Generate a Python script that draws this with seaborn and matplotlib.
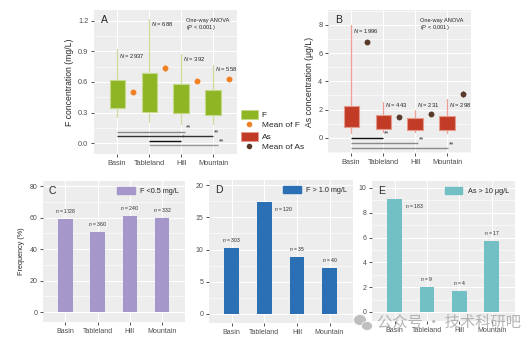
import numpy as np
import matplotlib
matplotlib.use("Agg")
import matplotlib.pyplot as plt
import seaborn as sns
from matplotlib.patches import Patch, Ellipse
from matplotlib.lines import Line2D
from matplotlib.ticker import MultipleLocator

# ---------------- data ----------------
regions = ["Basin", "Tableland", "Hill", "Mountain"]

# Panel A: F concentration (mg/L) box summaries
f_whislo = [0.26, 0.21, 0.19, 0.19]
f_q1 = [0.34, 0.305, 0.30, 0.28]
f_q3 = [0.62, 0.686, 0.58, 0.52]
f_whishi = [0.92, 1.22, 0.875, 0.77]
f_mean = [0.50, 0.74, 0.61, 0.63]
f_mean_err = [0.01, 0.03, 0.02, 0.02]
f_n = [2937, 688, 392, 558]
f_n_y = [0.855, 1.17, 0.83, 0.73]
f_sig_start = [0, 0, 1, 1]
f_sig_end = [2.12, 3.0, 2.0, 3.15]
f_sig_y = [0.11, 0.069, 0.02, -0.023]
f_sig_label = ["**", "**", "*", "**"]
f_sig_color = ["#8a8a8a", "#333333", "#111111", "#9a9a9a"]

# Panel B: As concentration (ug/L) box summaries
as_whislo = [0.35, 0.40, 0.40, 0.35]
as_q1 = [0.73, 0.62, 0.57, 0.57]
as_q3 = [2.22, 1.58, 1.39, 1.56]
as_whishi = [8.0, 2.57, 1.98, 2.76]
as_mean = [6.78, 1.46, 1.72, 3.12]
as_mean_err = [0.08, 0.05, 0.05, 0.2]
as_n = [1996, 443, 231, 298]
as_n_y = [7.6, 2.35, 2.35, 2.35]
as_sig_start = [0, 0, 0]
as_sig_end = [1.0, 2.1, 3.03]
as_sig_y = [0.0, -0.37, -0.75]
as_sig_label = ["**", "**", "**"]
as_sig_color = ["#111111", "#8a8a8a", "#8a8a8a"]

# Panels C-E: frequencies (%)
freq_f_low = [58.8, 50.9, 61.1, 59.4]
n_f_low = [1728, 360, 240, 332]
freq_f_high = [10.26, 17.4, 8.86, 7.15]
n_f_high = [303, 120, 35, 40]
freq_as_high = [9.13, 2.0, 1.68, 5.72]
n_as_high = [183, 9, 4, 17]

# ---------------- style ----------------
sns.set_theme(style="darkgrid")
plt.rcParams['font.family'] = ['Liberation Sans', 'DejaVu Sans']
plt.rcParams['mathtext.fontset'] = 'custom'
plt.rcParams['mathtext.it'] = 'Liberation Sans:italic'
plt.rcParams['mathtext.rm'] = 'Liberation Sans'

BG = "#ededed"
C_F = "#8db524"
C_FEDGE = "#c4d98a"
C_FWH = "#cfdd9c"
C_FMEAN = "#f28126"
C_AS = "#c23b27"
C_ASEDGE = "#e59b8c"
C_ASWH = "#eea096"
C_ASMEAN = "#5a3a2a"
C_C = "#a597c9"
C_D = "#2b70b4"
C_E = "#73c0c4"

W, H = 532, 346
fig = plt.figure(figsize=(W / 100, H / 100), dpi=100)


def add_ax(x0, y0, x1, y1):
    return fig.add_axes([x0 / W, 1 - y1 / H, (x1 - x0) / W, (y1 - y0) / H])


def style_ax(ax, tick_fs):
    ax.set_facecolor(BG)
    for s in ax.spines.values():
        s.set_visible(False)
    ax.grid(True, which="major", color="white", linewidth=0.8)
    ax.grid(True, which="minor", axis="y", color="white", linewidth=0.4)
    ax.tick_params(axis="both", which="major", length=2.5, width=0.6, color="#333333",
                   labelcolor="#4d4d4d", labelsize=tick_fs, pad=1.5,
                   bottom=True, left=True)
    ax.tick_params(axis="both", which="minor", length=0)
    ax.set_axisbelow(True)


def box_panel(ax, whislo, q1, q3, whishi, fill, edge, wh, mean, err, mcol):
    stats = []
    for lo, a, b, hi in zip(whislo, q1, q3, whishi):
        stats.append(dict(whislo=lo, q1=a, med=a, q3=b, whishi=hi, fliers=[]))
    ax.bxp(stats, positions=np.arange(len(stats)), widths=0.47, patch_artist=True,
           showfliers=False, showcaps=False,
           boxprops=dict(facecolor=fill, edgecolor=edge, linewidth=0.8),
           whiskerprops=dict(color=wh, linewidth=0.9),
           medianprops=dict(linewidth=0))
    xm = np.arange(len(mean)) + 0.5
    ax.errorbar(xm, mean, yerr=err, fmt="none", ecolor=mcol, elinewidth=0.8, capsize=0)
    sns.scatterplot(x=xm, y=mean, color=mcol, s=18, linewidth=0, ax=ax, zorder=4)


def sig_lines(ax, starts, ends, ys, labels, colors):
    for s, e, y, lab, c in zip(starts, ends, ys, labels, colors):
        ax.plot([s, e], [y, y], color=c, linewidth=1.0, solid_capstyle="butt")
        ax.text(e + 0.03, y, lab, fontsize=4.8, va="bottom", ha="left", color="#333333")


# ---------------- Panel A ----------------
axA = add_ax(94, 10, 237, 154)
box_panel(axA, f_whislo, f_q1, f_q3, f_whishi, C_F, C_FEDGE, C_FWH,
          f_mean, f_mean_err, C_FMEAN)
axA.set_xlim(-0.72, 3.75)
axA.set_ylim(-0.108, 1.308)
axA.yaxis.set_minor_locator(MultipleLocator(0.15))
axA.set_yticks([0, 0.3, 0.6, 0.9, 1.2])
axA.set_yticklabels(["0.0", "0.3", "0.6", "0.9", "1.2"])
axA.set_xticks(range(4))
axA.set_xticklabels(regions)
style_ax(axA, 5.3)
axA.set_ylabel("F concentration (mg/L)", fontsize=6.2, labelpad=3)
for i, (n, y) in enumerate(zip(f_n, f_n_y)):
    axA.text(i + 0.06, y, r"$\it{N}$" + f" = {n}", fontsize=4.2, va="center", ha="left")
sig_lines(axA, f_sig_start, f_sig_end, f_sig_y, f_sig_label, f_sig_color)
axA.text(0.05, 0.93, "A", transform=axA.transAxes, fontsize=7.5, va="center", ha="left")
axA.text(0.645, 0.925, "One-way ANOVA", transform=axA.transAxes, fontsize=4.1,
         va="center", ha="left")
axA.text(0.645, 0.875, r"($\it{P}$ < 0.001)", transform=axA.transAxes, fontsize=4.1,
         va="center", ha="left")

# ---------------- Panel B ----------------
axB = add_ax(328, 10, 471, 153)
box_panel(axB, as_whislo, as_q1, as_q3, as_whishi, C_AS, C_ASEDGE, C_ASWH,
          as_mean, as_mean_err, C_ASMEAN)
axB.set_xlim(-0.72, 3.75)
axB.set_ylim(-1.08, 9.06)
axB.yaxis.set_minor_locator(MultipleLocator(1))
axB.set_yticks([0, 2, 4, 6, 8])
axB.set_xticks(range(4))
axB.set_xticklabels(regions)
style_ax(axB, 5.3)
axB.set_ylabel("As concentration (μg/L)", fontsize=6.2, labelpad=3)
for i, (n, y) in enumerate(zip(as_n, as_n_y)):
    axB.text(i + 0.06, y, r"$\it{N}$" + f" = {n}", fontsize=4.2, va="center", ha="left")
sig_lines(axB, as_sig_start, as_sig_end, as_sig_y, as_sig_label, as_sig_color)
axB.text(0.05, 0.93, "B", transform=axB.transAxes, fontsize=7.5, va="center", ha="left")
axB.text(0.645, 0.925, "One-way ANOVA", transform=axB.transAxes, fontsize=4.1,
         va="center", ha="left")
axB.text(0.645, 0.875, r"($\it{P}$ < 0.001)", transform=axB.transAxes, fontsize=4.1,
         va="center", ha="left")

# ---------------- A/B legends ----------------
fig.legend(handles=[Patch(facecolor=C_F, edgecolor=C_FEDGE, linewidth=0.6),
                    Line2D([], [], marker="o", linestyle="none", color=C_FMEAN, markersize=3)],
           labels=["F", "Mean of F"], loc="upper left",
           bbox_to_anchor=(241 / W, 1 - 110 / H), frameon=False, fontsize=6,
           handlelength=2.0, handleheight=1.2, labelspacing=0.15,
           borderpad=0, handletextpad=0.5, borderaxespad=0)
fig.legend(handles=[Patch(facecolor=C_AS, edgecolor=C_ASEDGE, linewidth=0.6),
                    Line2D([], [], marker="o", linestyle="none", color=C_ASMEAN, markersize=3)],
           labels=["As", "Mean of As"], loc="upper left",
           bbox_to_anchor=(241 / W, 1 - 132 / H), frameon=False, fontsize=6,
           handlelength=2.0, handleheight=1.2, labelspacing=0.15,
           borderpad=0, handletextpad=0.5, borderaxespad=0)


# ---------------- Bar panels ----------------
def bar_panel(ax, vals, ns, color, label, letter, ylim, step, minor, side):
    sns.barplot(x=regions, y=vals, color=color, width=0.45, ax=ax, saturation=1,
                edgecolor=color, linewidth=0)
    ax.set_xlim(-0.7, 3.72)
    ax.set_ylim(*ylim)
    ax.yaxis.set_major_locator(MultipleLocator(step))
    ax.yaxis.set_minor_locator(MultipleLocator(minor))
    style_ax(ax, 5.0)
    ax.set_xlabel("")
    ax.set_ylabel("")
    for i, (v, n) in enumerate(zip(vals, ns)):
        if side[i]:
            ax.annotate(r"$\it{n}$" + f" = {n}", (i + 0.225, v), xytext=(2, -2.5),
                        textcoords="offset points", fontsize=3.6, ha="left", va="top")
        else:
            ax.annotate(r"$\it{n}$" + f" = {n}", (i, v), xytext=(0, 3),
                        textcoords="offset points", fontsize=3.6, ha="center", va="bottom")
    ax.text(0.04, 0.93, letter, transform=ax.transAxes, fontsize=7.5, va="center", ha="left")
    ax.legend(handles=[Patch(facecolor=color, edgecolor=color)], labels=[label],
              loc="upper right", frameon=False, fontsize=5.2, handlelength=2.4,
              handleheight=1.1, handletextpad=0.8, borderaxespad=0.5, borderpad=0.3)


axC = add_ax(43, 181, 185, 322)
bar_panel(axC, freq_f_low, n_f_low, C_C, "F <0.5 mg/L", "C", (-6.35, 83.2), 20, 10,
          [False, False, False, False])
axC.set_ylabel("Frequency (%)", fontsize=5.2, labelpad=3)

axD = add_ax(209, 180, 353, 323)
bar_panel(axD, freq_f_high, n_f_high, C_D, "F > 1.0 mg/L", "D", (-1.4, 20.8), 5, 2.5,
          [False, True, False, False])

axE = add_ax(372, 181, 515, 321)
bar_panel(axE, freq_as_high, n_as_high, C_E, "As > 10 μg/L", "E", (-0.73, 10.56), 2, 1,
          [True, False, False, False])

# ---------------- watermark ----------------
fig.patches.append(Ellipse((360 / W, 1 - 320 / H), 13 / W, 11 / H, transform=fig.transFigure,
                           facecolor="#b8b8b8", edgecolor="white", linewidth=0.6, alpha=0.9))
fig.patches.append(Ellipse((367 / W, 1 - 326 / H), 11 / W, 9 / H, transform=fig.transFigure,
                           facecolor="#b8b8b8", edgecolor="white", linewidth=0.6, alpha=0.9))
fig.text(377 / W, 1 - 322 / H, "公众号 · 技术科研吧", family=["Noto Sans CJK SC", "DejaVu Sans"],
         fontsize=11, color="#a8a8a8", alpha=0.85, va="center", ha="left")

fig.savefig("out.png", dpi=100)
